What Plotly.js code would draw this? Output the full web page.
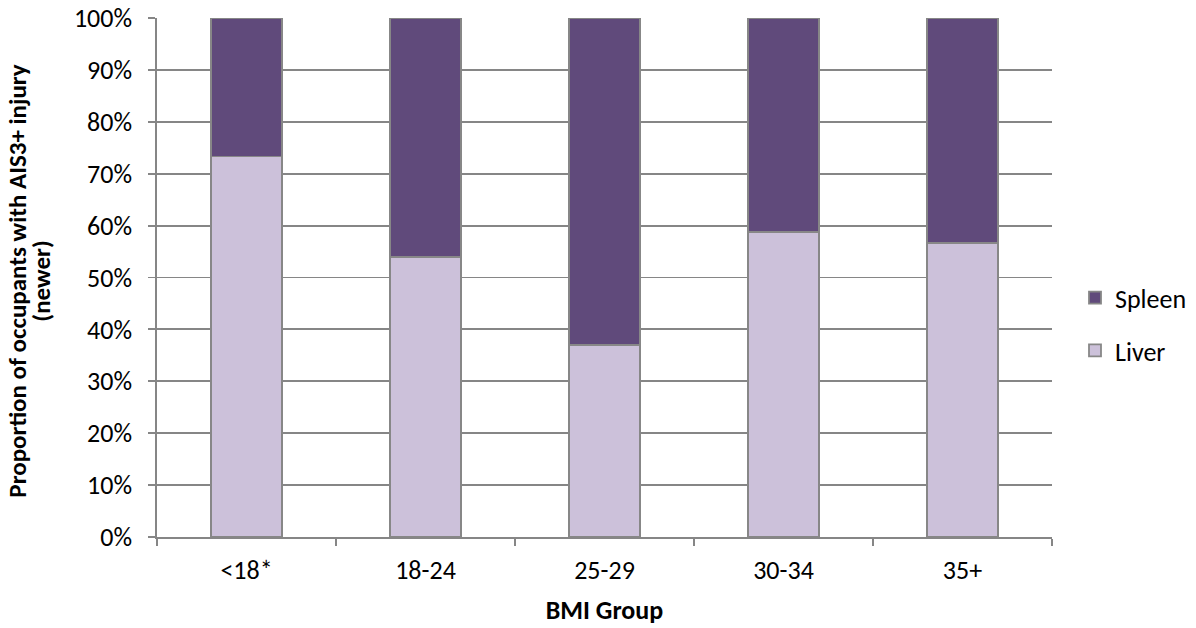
<!DOCTYPE html>
<html>
<head>
<meta charset="utf-8">
<script src="https://cdn.plot.ly/plotly-3.0.1.min.js"></script>
<style>html,body{margin:0;padding:0;background:#fff;}#chart{width:1196px;height:628px;}</style>
</head>
<body>
<div id="chart"></div>
<script>
const categories = ["<18*", "18-24", "25-29", "30-34", "35+"];
const liver = [0.733, 0.540, 0.370, 0.587, 0.566];
const spleen = [0.267, 0.460, 0.630, 0.413, 0.434];
const yTitleLine1 = "Proportion of occupants with AIS3+ injury";
const yTitleLine2 = "(newer)";
const xTitle = "BMI Group";

const font = "Carlito, Calibri, Lato, sans-serif";
const fs = 26;
const traces = [
  {type: "bar", name: "Liver", x: categories, y: liver, legendgroup: "a", legendrank: 2,
   marker: {color: "#CCC1DA", line: {color: "#878787", width: 1.8}}, hoverinfo: "y"},
  {type: "bar", name: "Spleen", x: categories, y: spleen, legendgroup: "b", legendrank: 1,
   marker: {color: "#604A7B", line: {color: "#878787", width: 1.8}}, hoverinfo: "y"}
];
const layout = {
  width: 1196, height: 628,
  margin: {l: 157, r: 144, t: 18, b: 91, autoexpand: false},
  barmode: "stack", bargap: 0.6,
  paper_bgcolor: "#fff", plot_bgcolor: "#fff",
  font: {family: font, size: fs, color: "#000"},
  showlegend: true,
  legend: {x: 1.0257, y: 0.41, yanchor: "middle", xanchor: "left", traceorder: "grouped",
           font: {size: fs}, tracegroupgap: 16, bgcolor: "rgba(0,0,0,0)"},
  xaxis: {
    type: "category", tickson: "boundaries", ticks: "outside", ticklen: 7, tickcolor: "#868686", tickwidth: 1.8,
    showline: true, linecolor: "#868686", linewidth: 1.8, showgrid: false,
    ticklabelstandoff: 9, automargin: false,
    title: {text: "<b>" + xTitle + "</b>", font: {size: fs}, standoff: 16},
    tickfont: {size: fs}
  },
  yaxis: {
    range: [0, 1], tickformat: ".0%", dtick: 0.1, ticks: "outside", ticklen: 7, tickcolor: "#868686", tickwidth: 1.8,
    showline: true, linecolor: "#868686", linewidth: 1.8, automargin: false, ticklabelstandoff: 11,
    showgrid: true, gridcolor: "#868686", gridwidth: 1.8, zeroline: false,
    tickfont: {size: fs}
  },
  annotations: [
    {text: "<b>" + yTitleLine1 + "</b>", xref: "paper", yref: "paper", x: -157/895 + 18/895, y: 0.492,
     xanchor: "center", yanchor: "middle", textangle: -90, showarrow: false, font: {size: 25}},
    {text: "<b>" + yTitleLine2 + "</b>", xref: "paper", yref: "paper", x: -157/895 + 42/895, y: 0.492,
     xanchor: "center", yanchor: "middle", textangle: -90, showarrow: false, font: {size: 25}}
  ]
};
Plotly.newPlot("chart", traces, layout, {displayModeBar: false, staticPlot: true});
</script>
</body>
</html>
